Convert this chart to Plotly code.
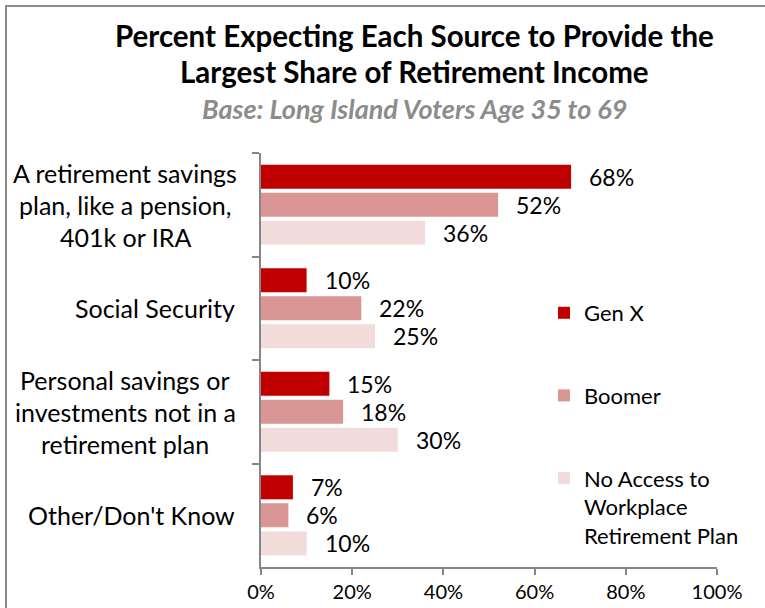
import plotly.graph_objects as go

# Survey categories (each entry is the list of lines shown beside the axis)
category_lines = [
    ["A retirement savings", "plan, like a pension,", "401k or IRA"],
    ["Social Security"],
    ["Personal savings or", "investments not in a", "retirement plan"],
    ["Other/Don't Know"],
]
categories = [" ".join(lines) for lines in category_lines]

series_names = ["Gen X", "Boomer", "No Access to<br>Workplace<br>Retirement Plan"]
gen_x = [68, 10, 15, 7]
boomer = [52, 22, 18, 6]
no_access = [36, 25, 30, 10]
series_values = [gen_x, boomer, no_access]
series_colors = ["#C00000", "#D99694", "#F2DCDB"]

x_tick_values = [0, 20, 40, 60, 80, 100]
x_tick_labels = ["0%", "20%", "40%", "60%", "80%", "100%"]

title_line1 = "Percent Expecting Each Source to Provide the"
title_line2 = "Largest Share of Retirement Income"
subtitle = "Base: Long Island Voters Age 35 to 69"

FONT = "Lato"
W, H = 765, 608
ML, MR, MT, MB = 261, 48, 153, 41
plot_w = W - ML - MR
plot_h = H - MT - MB
BARGAP = 0.19
BARGROUPGAP = 0.14
n_series = len(series_values)
slot_px = plot_h / len(categories) * (1 - BARGAP) / n_series


def px_to_paper_x(px):
    return (px - ML) / plot_w


def px_to_paper_y(py):
    return (H - MB - py) / plot_h


fig = go.Figure()
for i, (name, vals, col) in enumerate(zip(series_names, series_values, series_colors)):
    fig.add_trace(go.Bar(
        y=categories, x=vals, name=name, orientation="h",
        marker=dict(color=col, line=dict(width=0)),
        legendgroup=f"g{i}",
        hoverinfo="x+name",
    ))

annotations = []
# value labels to the right of each bar
for i, vals in enumerate(series_values):
    yshift = ((n_series - 1) / 2 - i) * slot_px
    for cat, v in zip(categories, vals):
        annotations.append(dict(
            x=v, y=cat, xref="x", yref="y", text=f"{v}%",
            showarrow=False, xanchor="left", yanchor="middle",
            xshift=16, yshift=yshift,
            font=dict(family=FONT, size=23, color="#000000"),
        ))

# category labels, lines centred within each block
LINE_SP = 32
for cat, lines in zip(categories, category_lines):
    n = len(lines)
    for j, line in enumerate(lines):
        if n == 1:
            xa, xp = "right", px_to_paper_x(237)
        else:
            xa, xp = "center", px_to_paper_x(125)
        annotations.append(dict(
            x=xp, y=cat, xref="paper", yref="y", text=line,
            showarrow=False, xanchor=xa, yanchor="middle",
            yshift=((n - 1) / 2 - j) * LINE_SP,
            font=dict(family=FONT, size=25, color="#000000"),
        ))

# titles
for text, py, style in [
    (title_line1, 35, "bold"),
    (title_line2, 71, "bold"),
    (subtitle, 109, "sub"),
]:
    if style == "bold":
        f = dict(family=FONT, size=29.5, color="#000000", weight="bold")
    else:
        f = dict(family=FONT, size=27, color="#8C8C8C", weight="bold", style="italic")
    annotations.append(dict(
        x=px_to_paper_x(414), y=px_to_paper_y(py), xref="paper", yref="paper",
        text=text, showarrow=False, xanchor="center", yanchor="middle", font=f,
    ))

fig.update_layout(
    width=W, height=H,
    margin=dict(l=ML, r=MR, t=MT, b=MB, pad=0, autoexpand=False),
    paper_bgcolor="#FFFFFF", plot_bgcolor="#FFFFFF",
    barmode="group", bargap=BARGAP, bargroupgap=BARGROUPGAP,
    font=dict(family=FONT, color="#000000"),
    annotations=annotations,
    showlegend=True,
    legend=dict(
        x=px_to_paper_x(544), y=px_to_paper_y(292), xanchor="left", yanchor="top",
        traceorder="grouped", tracegroupgap=51, valign="top",
        font=dict(family=FONT, size=22, color="#000000"),
        bgcolor="rgba(0,0,0,0)",
    ),
    shapes=[dict(
        type="rect", xref="paper", yref="paper",
        x0=px_to_paper_x(6), x1=px_to_paper_x(W + 20),
        y0=px_to_paper_y(H + 20), y1=px_to_paper_y(6),
        line=dict(color="#8C8C8C", width=2), fillcolor="rgba(0,0,0,0)", layer="below",
    )],
)

fig.update_xaxes(
    range=[0, 100], tickvals=x_tick_values, ticktext=x_tick_labels,
    showgrid=False, zeroline=False,
    showline=True, linecolor="#868686", linewidth=1.5,
    ticks="outside", ticklen=6, tickcolor="#868686", tickwidth=1.5,
    automargin=False,
    tickfont=dict(family=FONT, size=20, color="#000000"),
    fixedrange=True,
)
fig.update_yaxes(
    categoryorder="array", categoryarray=categories, autorange="reversed",
    showgrid=False, zeroline=False, showticklabels=False,
    showline=True, linecolor="#868686", linewidth=1.5,
    ticks="outside", tickson="boundaries", ticklen=7, tickcolor="#868686", tickwidth=1.5,
    automargin=False,
    fixedrange=True,
)

fig.write_html("out.html")
